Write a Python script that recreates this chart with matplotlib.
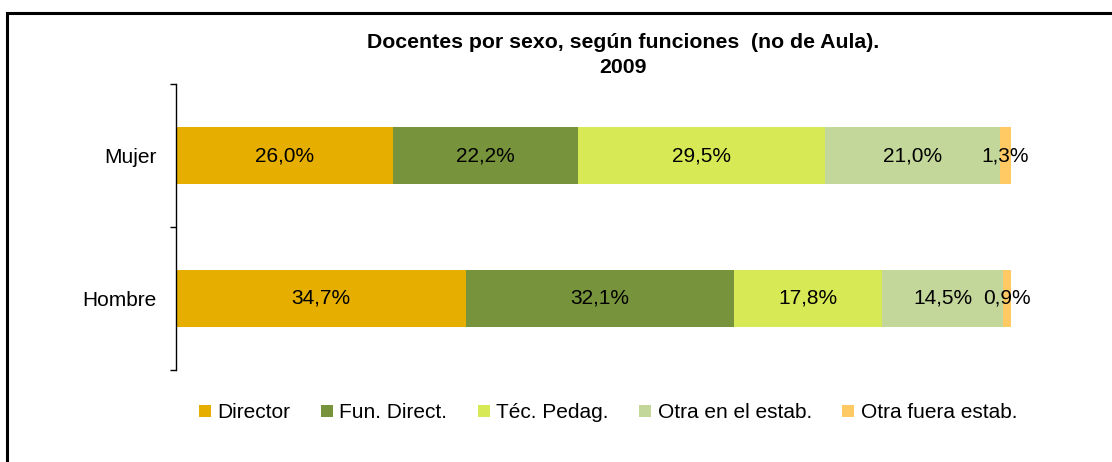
import numpy as np
import matplotlib
matplotlib.use("Agg")
import matplotlib.pyplot as plt
from matplotlib.lines import Line2D
from matplotlib.patches import Rectangle

plt.rcParams['font.family'] = ['Liberation Sans', 'DejaVu Sans']

# datos
grupos = ['Hombre', 'Mujer']
funciones = ['Director', 'Fun. Direct.', 'Téc. Pedag.', 'Otra en el estab.', 'Otra fuera estab.']
director = [34.7, 26.0]
fun_direct = [32.1, 22.2]
tec_pedag = [17.8, 29.5]
otra_en = [14.5, 21.0]
otra_fuera = [0.9, 1.3]
colores = ['#E6AF00', '#77933C', '#D7EA56', '#C4D79B', '#FFC964']

series = [director, fun_direct, tec_pedag, otra_en, otra_fuera]

fig = plt.figure(figsize=(11.12, 4.62), dpi=100)
ax = fig.add_axes([176 / 1112, 1 - 370 / 462, (1011 - 176) / 1112, (370 - 84) / 462])

y = np.arange(len(grupos))
izq = np.zeros(len(grupos))
for vals, col in zip(series, colores):
    vals = np.array(vals)
    ax.barh(y, vals, left=izq, height=0.4, color=col, edgecolor='none')
    for yi, v, l in zip(y, vals, izq):
        ax.text(l + v / 2, yi, f"{v:.1f}%".replace('.', ','), ha='center', va='center',
                fontsize=15, color='black')
    izq += vals

ax.set_xlim(0, 100)
ax.set_ylim(-0.5, 1.5)
ax.set_xticks([])
ax.set_yticks(y)
ax.set_yticklabels(grupos, fontsize=15)
ax.set_yticks([-0.5, 0.5, 1.5], minor=True)
ax.tick_params(axis='y', which='major', length=0, pad=14)
ax.tick_params(axis='y', which='minor', length=4, width=1, direction='out')
for s in ['top', 'right', 'bottom']:
    ax.spines[s].set_visible(False)
ax.spines['left'].set_linewidth(1)

fig.text(623 / 1112, 1 - 55 / 462, 'Docentes por sexo, según funciones  (no de Aula).\n2009',
         ha='center', va='center', fontsize=15.3, fontweight='bold', linespacing=1.35)

handles = [Line2D([], [], marker='s', linestyle='none', markersize=8, color=c,
                  markeredgewidth=0) for c in colores]
fig.legend(handles, funciones, loc='center', bbox_to_anchor=(608 / 1112, 1 - 413 / 462),
           ncol=5, frameon=False, fontsize=15, handlelength=0.6, handletextpad=0.3,
           columnspacing=1.45)

# marco del gráfico
fig.patches.append(Rectangle((7 / 1112, -0.1), 1.2, 1 - 13 / 462 + 0.1,
                             transform=fig.transFigure, fill=False,
                             edgecolor='black', linewidth=2.2))

fig.savefig('out.png', dpi=100)
